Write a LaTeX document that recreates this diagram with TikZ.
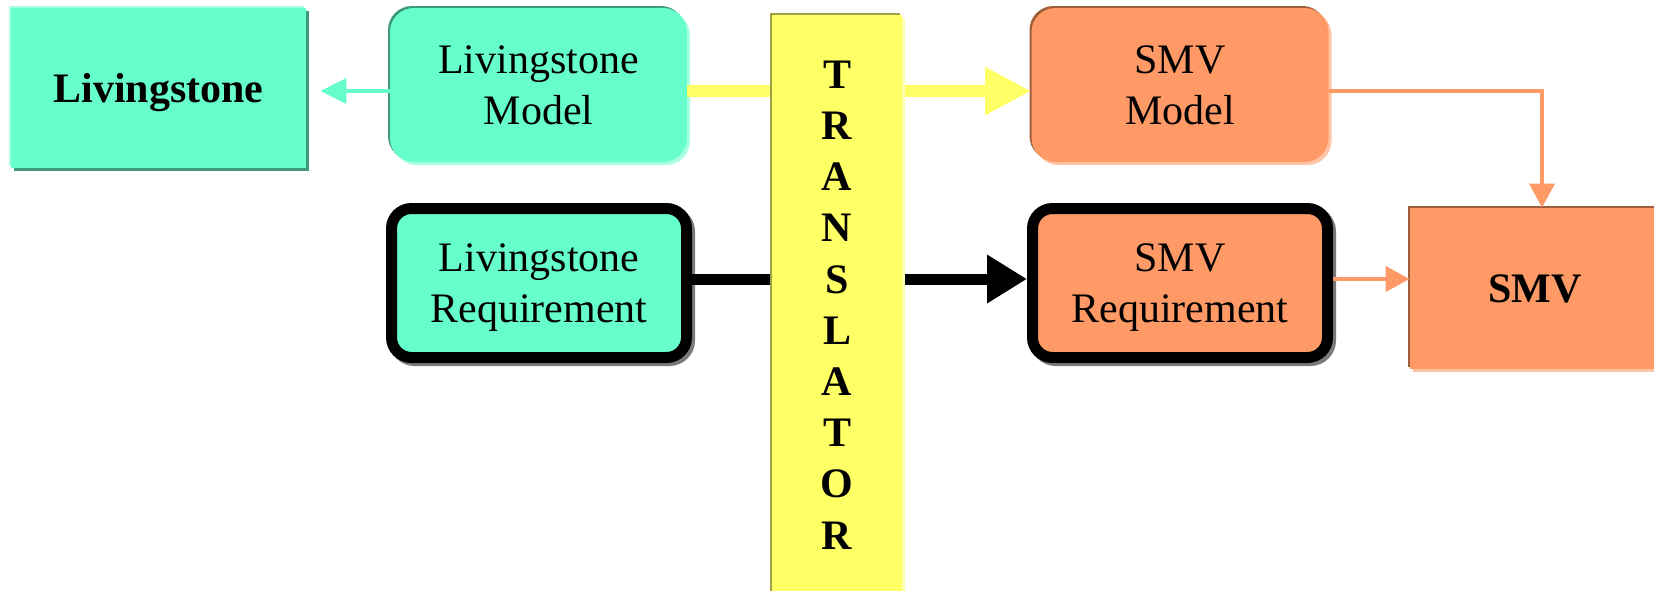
\documentclass[tikz,border=0pt]{standalone}
\usepackage{fontspec}
\setmainfont{Liberation Serif}
\usetikzlibrary{arrows.meta, shadows}

\definecolor{livfill}{HTML}{66FFCC}
\definecolor{livdark}{HTML}{3F9A7C}
\definecolor{livlight}{HTML}{A8FFE2}
\definecolor{smvfill}{HTML}{FF9966}
\definecolor{smvdark}{HTML}{9E5E3A}
\definecolor{smvlight}{HTML}{FFC4A4}
\definecolor{trfill}{HTML}{FFFF66}
\definecolor{trdark}{HTML}{A0A048}
\definecolor{trlight}{HTML}{FFFFB0}
\definecolor{reqshadow}{HTML}{7A7A7A}

\begin{document}
\begin{tikzpicture}[x=0.5pt, y=-0.5pt,
    bevel/.style 2 args={general shadow={fill=#1, shadow xshift=-1pt, shadow yshift=1pt},
                         general shadow={fill=#2, shadow xshift=1.5pt, shadow yshift=-1.5pt}},
    box/.style={inner sep=0pt, align=center, text depth=0pt,
                font=\fontsize{21}{25.5}\selectfont},
    model box/.style={box, rounded corners=12pt, minimum width=148.5pt, minimum height=77pt},
    req box/.style={box, rounded corners=10pt, draw=black, line width=5.5pt,
                    minimum width=147.5pt, minimum height=74.5pt,
                    general shadow={fill=reqshadow, draw=reqshadow, line width=5.5pt,
                                    shadow xshift=1.5pt, shadow yshift=-1.5pt}},
    tool box/.style={box, font=\fontsize{21}{25.6}\selectfont\bfseries},
    teal arrow/.style={draw=livfill, line width=2pt, -{Triangle[length=13pt, width=12.5pt]}},
    yellow arrow/.style={draw=trfill, line width=6.25pt, -{Triangle[length=23pt, width=22.5pt]}},
    black arrow/.style={draw=black, line width=5.5pt, -{Triangle[length=20pt, width=23pt]}},
    orange arrow/.style={draw=smvfill, line width=2pt, -{Triangle[length=12pt, width=12.5pt]}}]

    \useasboundingbox (0,0) rectangle (1654,590);

    % livingstone side
    \node[tool box, fill=livfill, bevel={livlight}{livdark},
          minimum width=147.5pt, minimum height=80pt] (liv) at (158.5,88) {Livingstone};
    \node[model box, fill=livfill, bevel={livdark}{livlight}] (livmodel) at (538.5,85) {Livingstone\\Model};
    \node[req box, fill=livfill] (livreq) at (539,283) {Livingstone\\Requirement};

    % smv side
    \node[model box, fill=smvfill, bevel={smvdark}{smvlight}] (smvmodel) at (1180,85) {SMV\\Model};
    \node[req box, fill=smvfill] (smvreq) at (1180,283) {SMV\\Requirement};
    \node[tool box, fill=smvfill, bevel={smvdark}{smvlight},
          minimum width=124pt, minimum height=80.5pt] (smv) at (1534,288.5)
          {\hspace*{1pt}SMV};

    \coordinate (modelrow) at (0,91);
    \coordinate (reqrow) at (0,279);

    \draw[teal arrow, shorten >=7pt] (livmodel.west |- modelrow) -- (liv.east |- modelrow);
    \draw[yellow arrow] (livmodel.east |- modelrow) -- (smvmodel.west |- modelrow);
    \draw[black arrow] (livreq.east |- reqrow) -- (smvreq.west |- reqrow);
    \draw[orange arrow] (smvmodel.east |- modelrow) -| ([xshift=4pt]smv.north);
    \draw[orange arrow] (smvreq.east |- reqrow) -- (smv.west |- reqrow);

    % translator on top of the lines
    \node[tool box, fill=trfill, bevel={trdark}{trlight},
          minimum width=65pt, minimum height=290pt] (translator) at (837,305)
          {T\\R\\A\\N\\S\\L\\A\\T\\O\\R};

\end{tikzpicture}
\end{document}
